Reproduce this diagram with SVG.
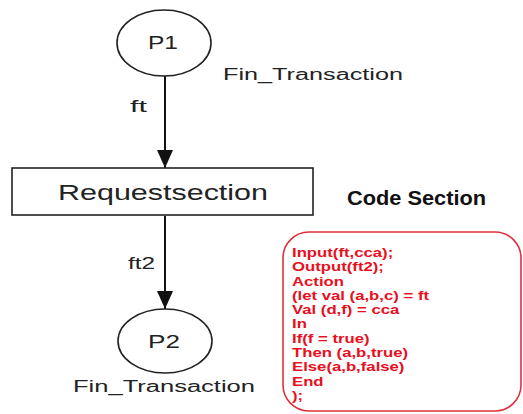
<svg xmlns="http://www.w3.org/2000/svg" width="523" height="414" viewBox="0 0 523 414">
<defs>
<marker id="arr" viewBox="0 0 18 16" refX="18" refY="8" markerWidth="18" markerHeight="16" markerUnits="userSpaceOnUse" orient="auto">
<path d="M0,0 L18,8 L0,16 Z" fill="#111"/>
</marker>
</defs>
<style>
.node{fill:#fff;stroke:#222;stroke-width:1.6}
.lbl{font-family:"Liberation Sans",Arial,sans-serif;fill:#222}
.edge{stroke:#111;stroke-width:2;fill:none}
.code{font-family:"Liberation Sans",Arial,sans-serif;font-weight:bold;font-size:13.5px;fill:#e8101e}
</style>
<rect width="523" height="414" fill="#fff"/>
<g id="connectors">
<line class="edge" x1="165" y1="76" x2="165" y2="168" marker-end="url(#arr)"/>
<line class="edge" x1="165" y1="216" x2="165" y2="309" marker-end="url(#arr)"/>
<text class="lbl" x="130" y="112" font-size="16" textLength="17" lengthAdjust="spacingAndGlyphs">ft</text>
<text class="lbl" x="128" y="269" font-size="16" textLength="27" lengthAdjust="spacingAndGlyphs">ft2</text>
</g>
<g id="P1">
<ellipse class="node" cx="164" cy="43" rx="47" ry="33"/>
<text class="lbl" x="148" y="49" font-size="19" textLength="30" lengthAdjust="spacingAndGlyphs">P1</text>
<text class="lbl" x="223" y="80" font-size="16" textLength="180" lengthAdjust="spacingAndGlyphs">Fin_Transaction</text>
</g>
<g id="Requestsection">
<rect class="node" x="12" y="168" width="301" height="47"/>
<text class="lbl" x="58" y="200" font-size="22" textLength="210" lengthAdjust="spacingAndGlyphs">Requestsection</text>
</g>
<g id="P2">
<ellipse class="node" cx="165" cy="341" rx="47" ry="32"/>
<text class="lbl" x="148" y="348" font-size="19" textLength="32" lengthAdjust="spacingAndGlyphs">P2</text>
<text class="lbl" x="73" y="392" font-size="16" textLength="182" lengthAdjust="spacingAndGlyphs">Fin_Transaction</text>
</g>
<g id="CodeSection">
<text x="347" y="205" font-family="'Liberation Sans',Arial,sans-serif" font-weight="bold" font-size="20" fill="#111" textLength="139" lengthAdjust="spacingAndGlyphs">Code Section</text>
<rect x="283" y="232" width="238" height="179" rx="26" ry="26" fill="#fff" stroke="#e0303c" stroke-width="1.6"/>
<g transform="translate(292,0) scale(1.24,1)">
<text class="code" x="0" y="257">Input(ft,cca);</text>
<text class="code" x="0" y="271.3">Output(ft2);</text>
<text class="code" x="0" y="285.6">Action</text>
<text class="code" x="0" y="299.9">(let val (a,b,c) = ft</text>
<text class="code" x="0" y="314.2">Val (d,f) = cca</text>
<text class="code" x="0" y="328.5">In</text>
<text class="code" x="0" y="342.8">If(f = true)</text>
<text class="code" x="0" y="357.1">Then (a,b,true)</text>
<text class="code" x="0" y="371.4">Else(a,b,false)</text>
<text class="code" x="0" y="385.7">End</text>
<text class="code" x="0" y="400">);</text>
</g>
</g>
</svg>
